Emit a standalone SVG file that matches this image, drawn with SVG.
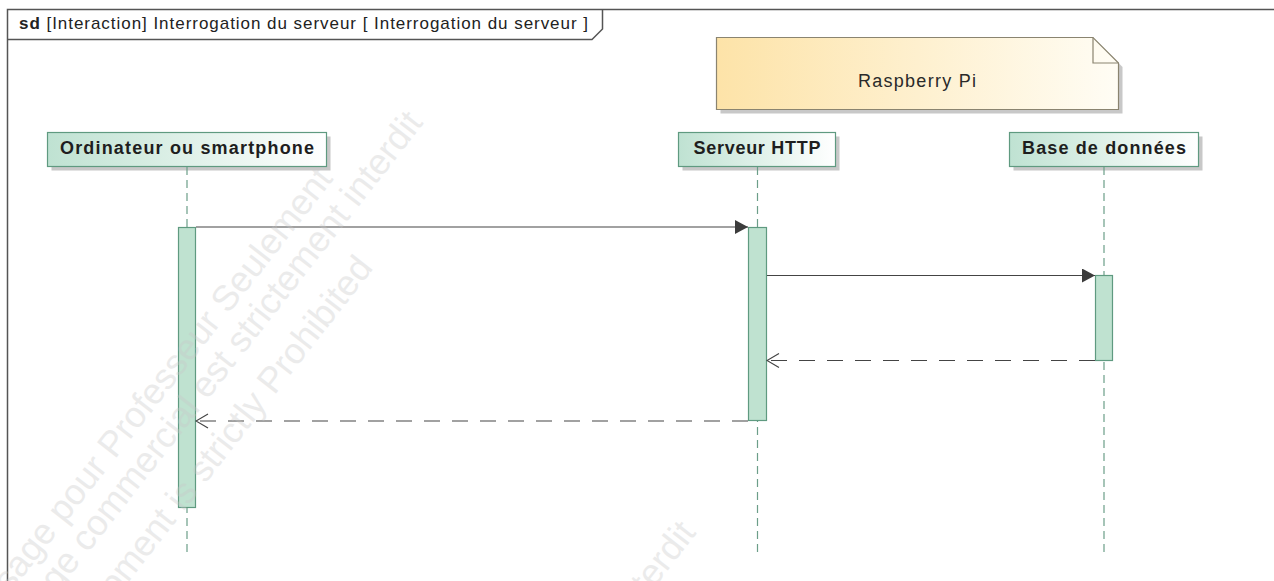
<svg xmlns="http://www.w3.org/2000/svg" width="1274" height="581" viewBox="0 0 1274 581">
  <defs>
    <linearGradient id="gLife" x1="0" y1="0" x2="1" y2="0">
      <stop offset="0" stop-color="#bfe2d2"/>
      <stop offset="1" stop-color="#ffffff"/>
    </linearGradient>
    <linearGradient id="gNote" x1="0" y1="0" x2="1" y2="0">
      <stop offset="0" stop-color="#fde3a8"/>
      <stop offset="1" stop-color="#fffdf5"/>
    </linearGradient>
    <marker id="arrFilled" viewBox="0 0 13 14" refX="13" refY="7" markerWidth="13" markerHeight="14" markerUnits="userSpaceOnUse" orient="auto">
      <path d="M0,0 L13,7 L0,14 Z" fill="#3c3c3c"/>
    </marker>
    <marker id="arrOpen" viewBox="0 0 14 16" refX="13" refY="8" markerWidth="14" markerHeight="16" markerUnits="userSpaceOnUse" orient="auto">
      <path d="M1,1 L13,8 L1,15" fill="none" stroke="#444" stroke-width="1.2"/>
    </marker>
  </defs>
  <style>
    .frame { fill: none; stroke: #555; stroke-width: 1.5; }
    .title { font-family: "Liberation Sans", Arial, sans-serif; font-size: 17px; fill: #222; }
    .shadow { fill: #9a9a9a; opacity: 0.55; }
    .lbox { fill: url(#gLife); stroke: #5f9a80; stroke-width: 1.2; }
    .lname { font-family: "Liberation Sans", Arial, sans-serif; font-size: 18px; font-weight: bold; fill: #1e1e1e; text-anchor: middle; }
    .lifeline { stroke: #6c9e89; stroke-width: 1.2; stroke-dasharray: 8 5; fill: none; }
    .act { fill: #bfe2d0; stroke: #5f9a80; stroke-width: 1.2; }
    .msg { stroke: #444; stroke-width: 1.2; fill: none; }
    .ret { stroke: #444; stroke-width: 1.2; fill: none; stroke-dasharray: 16 12; }
    .note { fill: url(#gNote); stroke: #8a8470; stroke-width: 1.2; }
    .ntext { font-family: "Liberation Sans", Arial, sans-serif; font-size: 18px; fill: #2a2a2a; text-anchor: middle; }
    .wm { font-family: "Liberation Sans", Arial, sans-serif; font-size: 36px; fill: #c8c8c8; opacity: 0.35; text-anchor: end; }
  </style>

  <rect x="0" y="0" width="1274" height="581" fill="#ffffff"/>

  <g id="frame">
    <path class="frame" d="M7.5,590 V9.5 H1290"/>
    <path class="frame" d="M7.5,39.5 H592 L602.5,29 V9.5"/>
    <text class="title" x="19" y="29" textLength="569" lengthAdjust="spacing"><tspan font-weight="bold">sd</tspan> [Interaction] Interrogation du serveur [ Interrogation du serveur ]</text>
  </g>

  <g id="note-raspberry">
    <path class="shadow" d="M720.5,41.5 H1097 L1122.5,67 V113.5 H720.5 Z"/>
    <path class="note" d="M716.5,37.5 H1093 L1118.5,63 V109.5 H716.5 Z"/>
    <path d="M1093,37.5 V63 H1118.5" fill="none" stroke="#8a8470" stroke-width="1.2"/>
    <text class="ntext" x="917" y="87" textLength="118" lengthAdjust="spacing">Raspberry Pi</text>
  </g>

  <g id="lifeline-ordinateur">
    <rect class="shadow" x="51.5" y="136.5" width="279" height="34"/>
    <rect class="lbox" x="47.5" y="132.5" width="279" height="34"/>
    <text class="lname" x="187" y="154" textLength="254" lengthAdjust="spacing">Ordinateur ou smartphone</text>
    <line class="lifeline" x1="187" y1="167" x2="187" y2="552"/>
    <rect class="act" x="178.5" y="227.5" width="17" height="280"/>
  </g>

  <g id="lifeline-serveur">
    <rect class="shadow" x="682.5" y="136.5" width="157" height="34"/>
    <rect class="lbox" x="678.5" y="132.5" width="157" height="34"/>
    <text class="lname" x="757" y="154" textLength="127" lengthAdjust="spacing">Serveur HTTP</text>
    <line class="lifeline" x1="757.5" y1="167" x2="757.5" y2="552"/>
    <rect class="act" x="748.5" y="227.5" width="18" height="193"/>
  </g>

  <g id="lifeline-bdd">
    <rect class="shadow" x="1013.5" y="136.5" width="189" height="34"/>
    <rect class="lbox" x="1009.5" y="132.5" width="189" height="34"/>
    <text class="lname" x="1104" y="154" textLength="164" lengthAdjust="spacing">Base de données</text>
    <line class="lifeline" x1="1104" y1="167" x2="1104" y2="552"/>
    <rect class="act" x="1095.5" y="275.5" width="17" height="85"/>
  </g>

  <g id="connectors">
    <line class="msg" x1="196" y1="227" x2="748" y2="227" marker-end="url(#arrFilled)"/>
    <line class="msg" x1="767" y1="275.5" x2="1095" y2="275.5" marker-end="url(#arrFilled)"/>
    <line class="ret" x1="1095" y1="360.5" x2="767" y2="360.5" marker-end="url(#arrOpen)"/>
    <line class="ret" x1="748" y1="421" x2="196" y2="421" marker-end="url(#arrOpen)"/>
  </g>

  <g id="watermark">
    <text class="wm" transform="translate(334,179) rotate(-52)">Usage pour Professeur Seulement</text>
    <text class="wm" transform="translate(424,123) rotate(-52)">Usage commercial est strictement interdit</text>
    <text class="wm" transform="translate(374,268) rotate(-52)">Commercial Development is strictly Prohibited</text>
    <text class="wm" transform="translate(697,533) rotate(-52)">Usage commercial est strictement interdit</text>
  </g>
</svg>
